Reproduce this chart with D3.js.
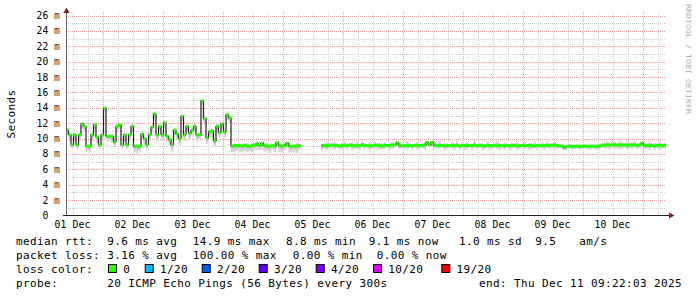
<!DOCTYPE html>
<html><head><meta charset="utf-8">
<script src="https://cdn.jsdelivr.net/npm/d3@7"></script>
<style>
html,body{margin:0;padding:0;background:#fff;}
svg{display:block;}
text{font-family:"DejaVu Sans Mono",monospace;fill:#000;}
</style>
</head><body>
<svg id="c" width="697" height="297"></svg>
<script>
// ---------- DATA ----------
const startTime = Date.UTC(2025, 11, 1, 9, 22, 3);
const endTime   = Date.UTC(2025, 11, 11, 9, 22, 3);
const stepHours = 1;

// hourly median RTT in ms (null = 100% loss, no data)
const medianRtt = [
  11.1,10.5,9.2,10.5,9.2,10.5,11.9,11.6,9.0,9.0,
  10.5,11.8,10.2,9.2,10.5,13.95,10.3,10.3,10.3,9.6,
  11.6,11.8,9.2,10.5,9.2,10.5,11.6,9.0,9.0,9.0,
  10.6,10.0,9.2,10.5,11.5,13.2,10.5,11.6,10.5,12.05,
  10.3,9.9,9.2,11.1,10.6,10.0,12.9,10.5,11.6,10.7,
  11.1,11.6,10.5,10.5,14.9,12.6,10.1,10.9,11.0,9.7,
  11.6,10.8,11.9,10.9,13.1,12.7,9.05,9.1,9.1,9.1,
  9.05,9.1,9.05,9.0,9.1,9.15,9.3,9.1,9.4,9.1,
  9.05,9.0,9.1,9.05,9.45,9.1,9.0,9.1,9.4,9.05,
  9.0,9.0,9.05,9.1,9.1,null,null,null,null,null,
  null,null,9.1,9.1,9.05,9.1,9.15,9.1,9.1,9.05,
  9.1,9.1,9.1,9.15,9.1,9.1,9.05,9.1,9.2,9.1,
  9.1,9.05,9.1,9.1,9.15,9.1,9.05,9.1,9.1,9.1,
  9.15,9.2,9.45,9.1,9.05,9.1,9.1,9.1,9.05,9.1,
  9.1,9.1,9.1,9.15,9.5,9.2,9.5,9.15,9.1,9.1,
  9.1,9.05,9.1,9.1,9.1,9.1,9.1,9.05,9.1,9.1,
  9.1,9.1,9.1,9.15,9.1,9.1,9.1,9.05,9.1,9.1,
  9.1,9.1,9.1,9.1,9.1,9.05,9.1,9.1,9.1,9.1,
  9.05,9.1,9.1,9.1,9.1,9.1,9.1,9.05,9.1,9.1,
  9.1,9.1,9.1,9.1,9.15,9.15,9.1,9.05,9.0,8.8,
  9.0,9.0,9.0,9.0,9.0,9.0,9.0,9.0,9.0,9.0,
  9.0,9.0,9.0,9.05,9.1,9.15,9.15,9.15,9.15,9.2,
  9.15,9.15,9.15,9.15,9.1,9.15,9.2,9.15,9.1,9.15,
  9.4,9.1,9.1,9.1,9.1,9.05,9.1,9.1,9.1,9.1
];

// smoke spread below / above median (ms)
const smokeBelow = [
  0.7,0.8,0.5,0.9,0.6,0.8,0.6,0.7,0.6,0.8,
  0.9,0.7,0.8,0.5,0.8,0.5,0.7,0.6,0.9,0.7,
  0.8,0.6,0.5,0.9,0.6,0.8,0.6,0.8,0.9,0.7,
  0.8,0.9,0.6,0.8,0.6,0.7,0.9,0.6,0.8,0.6,
  0.7,0.8,0.9,0.6,0.8,0.9,0.6,0.8,0.7,0.9,
  0.7,0.8,0.9,0.6,0.5,0.6,0.8,0.7,0.9,0.8,
  0.8,0.7,0.6,0.8,0.7,0.6,0.8,0.9,0.7,0.8,
  0.9,0.7,0.8,0.6,0.9,0.7,0.8,0.6,0.9,0.8,
  0.7,0.9,0.6,0.8,0.7,0.9,0.8,0.6,0.7,0.9,
  0.8,0.7,0.9,0.6,0.8,0,0,0,0,0,
  0,0,0.7,0.5,0.6,0.4,0.5,0.6,0.3,0.5,
  0.6,0.4,0.5,0.3,0.6,0.5,0.4,0.6,0.3,0.5,
  0.4,0.6,0.5,0.3,0.5,0.6,0.4,0.5,0.3,0.6,
  0.5,0.4,0.6,0.5,0.3,0.5,0.6,0.4,0.5,0.3,
  0.6,0.5,0.4,0.6,0.5,0.3,0.6,0.5,0.4,0.5,
  0.3,0.6,0.5,0.4,0.5,0.6,0.3,0.5,0.4,0.6,
  0.5,0.3,0.6,0.4,0.5,0.3,0.6,0.5,0.4,0.6,
  0.5,0.3,0.5,0.6,0.4,0.5,0.3,0.6,0.5,0.4,
  0.6,0.5,0.3,0.5,0.4,0.6,0.5,0.3,0.6,0.4,
  0.5,0.6,0.3,0.5,0.4,0.6,0.5,0.3,0.4,0.3,
  0.4,0.3,0.5,0.4,0.3,0.5,0.4,0.3,0.4,0.5,
  0.3,0.4,0.5,0.4,0.3,0.5,0.4,0.6,0.3,0.5,
  0.4,0.6,0.5,0.3,0.5,0.4,0.6,0.3,0.5,0.4,
  0.3,0.5,0.4,0.6,0.3,0.5,0.4,0.6,0.5,0.4
];
const smokeAbove = [
  0.2,0.1,0.2,0.1,0.2,0.1,0.2,0.1,0.2,0.2,
  0.1,0.2,0.1,0.2,0.1,0.2,0.1,0.2,0.1,0.2,
  0.2,0.1,0.2,0.1,0.2,0.1,0.2,0.1,0.2,0.1,
  0.1,0.2,0.1,0.2,0.1,0.2,0.2,0.1,0.2,0.1,
  0.2,0.1,0.2,0.1,0.2,0.1,0.2,0.1,0.2,0.1,
  0.1,0.2,0.1,0.2,0.2,0.1,0.2,0.1,0.2,0.1,
  0.2,0.1,0.2,0.1,0.2,0.1,0.2,0.3,0.2,0.3,
  0.2,0.3,0.4,0.2,0.3,0.2,0.4,0.3,0.2,0.3,
  0.4,0.2,0.3,0.2,0.3,0.4,0.2,0.3,0.2,0.3,
  0.2,0.3,0.4,0.2,0.3,0,0,0,0,0,
  0,0,0.2,0.3,0.6,0.4,0.2,0.5,0.3,0.2,
  0.4,0.6,0.3,0.2,0.5,0.3,0.7,0.2,0.4,0.3,
  0.2,0.5,0.3,0.6,0.2,0.4,0.3,0.5,0.2,0.3,
  0.4,0.2,0.3,0.5,0.3,0.2,0.6,0.4,0.2,0.3,
  0.5,0.2,0.3,0.4,0.2,0.3,0.2,0.5,0.3,0.6,
  0.2,0.4,0.3,0.2,0.5,0.3,0.6,0.2,0.4,0.3,
  0.5,0.2,0.3,0.6,0.2,0.4,0.3,0.2,0.5,0.3,
  0.2,0.4,0.6,0.3,0.2,0.5,0.3,0.2,0.4,0.3,
  0.6,0.2,0.3,0.5,0.2,0.4,0.3,0.6,0.2,0.3,
  0.4,0.2,0.5,0.3,0.2,0.4,0.3,0.2,0.3,0.2,
  0.2,0.3,0.2,0.2,0.3,0.2,0.2,0.3,0.2,0.2,
  0.3,0.2,0.2,0.3,0.4,0.3,0.5,0.3,0.6,0.4,
  0.3,0.5,0.4,0.3,0.6,0.4,0.3,0.5,0.4,0.3,
  0.2,0.4,0.3,0.5,0.3,0.4,0.3,0.5,0.3,0.4
];

const yTickValues = [0,2,4,6,8,10,12,14,16,18,20,22,24,26];
const yUnit = "m";
const dayLabels = ["01 Dec","02 Dec","03 Dec","04 Dec","05 Dec","06 Dec","07 Dec","08 Dec","09 Dec","10 Dec"];
const dayLabelDates = [1,2,3,4,5,6,7,8,9,10];

const legendRtt = [
  ["median rtt:",16],["9.6 ms avg",107.3],["14.9 ms max",192.7],["8.8 ms min",286],
  ["9.1 ms now",368.7],["1.0 ms sd",459],["9.5",535.3],["am/s",579.3]
];
const legendLoss = [
  ["packet loss:",16],["3.16 % avg",107.3],["100.00 % max",192.7],["0.00 % min",292.7],["0.00 % now",376.7]
];
const lossLabels = ["0","1/20","2/20","3/20","4/20","10/20","19/20"];
const lossColors = ["#26ff00","#00b8ff","#0059ff","#5e00ff","#7e00ff","#dd00ff","#ff0000"];
const lossBoxX = [109,145.7,202.7,259.7,316.7,374,442.3];
const probeText = "20 ICMP Echo Pings (56 Bytes) every 300s";
const endText = "end: Thu Dec 11 09:22:03 2025";
const watermark = "RRDTOOL / TOBI OETIKER";

// ---------- CHART ----------
const svg = d3.select("#c");
svg.append("rect").attr("width",697).attr("height",297).attr("fill","#fff");

const x = d3.scaleUtc().domain([startTime, endTime]).range([66, 666]);
const y = d3.scaleLinear().domain([0, 26]).range([215.5, 15.5]);

const pts = medianRtt.map((v,i)=>({t:startTime + i*stepHours*3600000, v, lo:smokeBelow[i], hi:smokeAbove[i]}));
pts.push({t:startTime + medianRtt.length*stepHours*3600000, v:medianRtt[medianRtt.length-1], lo:smokeBelow[smokeBelow.length-1], hi:smokeAbove[smokeAbove.length-1]});

const grid = svg.append("g");
d3.range(1, 27).forEach(ms=>{
  const yy = Math.round(y(ms)) + 0.5;
  grid.append("line").attr("x1",66).attr("x2",666).attr("y1",yy).attr("y2",yy)
    .attr("stroke", ms%2===0 ? "#e09a9a" : "#cfcfcf").attr("stroke-width",1)
    .attr("stroke-dasharray","1,1").attr("shape-rendering","crispEdges");
});
d3.utcHour.every(6).range(new Date(startTime), new Date(endTime)).forEach(d=>{
  const xx = Math.round(x(d)) + 0.5;
  const major = d.getUTCHours()===0;
  grid.append("line").attr("x1",xx).attr("x2",xx).attr("y1",12).attr("y2",215)
    .attr("stroke", major ? "#e09a9a" : "#cfcfcf").attr("stroke-width",1)
    .attr("stroke-dasharray","1,1").attr("shape-rendering","crispEdges");
});

// smoke
const def = d=>d.v!==null;
svg.append("path").datum(pts)
  .attr("d", d3.area().defined(def).curve(d3.curveStepAfter)
    .x(d=>x(d.t)).y0(d=>y(d.v - d.lo)).y1(d=>y(d.v + d.hi)))
  .attr("fill","#dadada");
svg.append("path").datum(pts)
  .attr("d", d3.area().defined(def).curve(d3.curveStepAfter)
    .x(d=>x(d.t)).y0(d=>y(d.v - d.lo*0.5)).y1(d=>y(d.v + d.hi*0.5)))
  .attr("fill","#c4c4c4");

// median line
svg.append("path").datum(pts)
  .attr("d", d3.line().defined(def).curve(d3.curveStepAfter).x(d=>x(d.t)).y(d=>y(d.v)))
  .attr("fill","none").attr("stroke","#202020").attr("stroke-width",1.2);

// loss-colored band (all 0 loss -> green)
svg.append("path").datum(pts)
  .attr("d", d3.area().defined(def).curve(d3.curveStepAfter)
    .x(d=>x(d.t)).y0(d=>y(d.v)+1.5).y1(d=>y(d.v)-1.5))
  .attr("fill", lossColors[0]);

// axes
svg.append("line").attr("x1",66.5).attr("x2",66.5).attr("y1",216).attr("y2",12)
  .attr("stroke","#666").attr("stroke-width",1).attr("shape-rendering","crispEdges");
svg.append("line").attr("x1",63).attr("x2",670).attr("y1",215.5).attr("y2",215.5)
  .attr("stroke","#222").attr("stroke-width",1).attr("shape-rendering","crispEdges");
svg.append("path").attr("d","M63.5,13 L66.5,7.5 L69.5,13 Z").attr("fill","#7f1f1f");
svg.append("path").attr("d","M669,212.5 L674.5,215.5 L669,218.5 Z").attr("fill","#7f1f1f");

// y tick labels
const yl = svg.append("g").style("font-size","9.7px").style("letter-spacing","0.16px");
yTickValues.forEach(v=>{
  const yy = y(v) + 3.5;
  yl.append("text").attr("x",48.5).attr("y",yy).attr("text-anchor","end").text(String(v));
  if (v!==0) yl.append("text").attr("x",54).attr("y",yy).style("fill","#333").text(yUnit);
});

// x tick labels (centered at noon)
const xl = svg.append("g").style("font-size","9.7px").style("letter-spacing","0.16px");
dayLabels.forEach((lab,i)=>{
  xl.append("text").attr("x", x(Date.UTC(2025,11,dayLabelDates[i],12))).attr("y",227.5)
    .attr("text-anchor","middle").text(lab);
});

// y axis title
svg.append("text").attr("transform","translate(14.5,114) rotate(-90)")
  .attr("text-anchor","middle").style("font-size","11px").style("letter-spacing","0.38px").text("Seconds");

// watermark (scaled to measured length ~110px)
const wm = svg.append("text").attr("x",0).attr("y",0)
  .style("font-size","7px").style("fill","#b0b0b0").text(watermark);
const wmLen = wm.node().getComputedTextLength() || 92;
wm.attr("transform",`translate(686,4) rotate(90) scale(${110/wmLen},1)`);

// legend
const lg = svg.append("g").style("font-size","11px").style("letter-spacing","0.38px");
legendRtt.forEach(([t,xx])=>lg.append("text").attr("x",xx).attr("y",244.5).text(t));
legendLoss.forEach(([t,xx])=>lg.append("text").attr("x",xx).attr("y",258.5).text(t));
lg.append("text").attr("x",16).attr("y",272.5).text("loss color:");
lossLabels.forEach((lab,i)=>{
  lg.append("rect").attr("x",lossBoxX[i]-0.5).attr("y",264.5).attr("width",8).attr("height",8)
    .attr("fill",lossColors[i]).attr("stroke","#000").attr("stroke-width",1);
  lg.append("text").attr("x",lossBoxX[i]+14.3).attr("y",272.5).text(lab);
});
lg.append("text").attr("x",16).attr("y",286.5).text("probe:");
lg.append("text").attr("x",107.3).attr("y",286.5).text(probeText);
lg.append("text").attr("x",479).attr("y",286.5).text(endText);
</script>
</body></html>
